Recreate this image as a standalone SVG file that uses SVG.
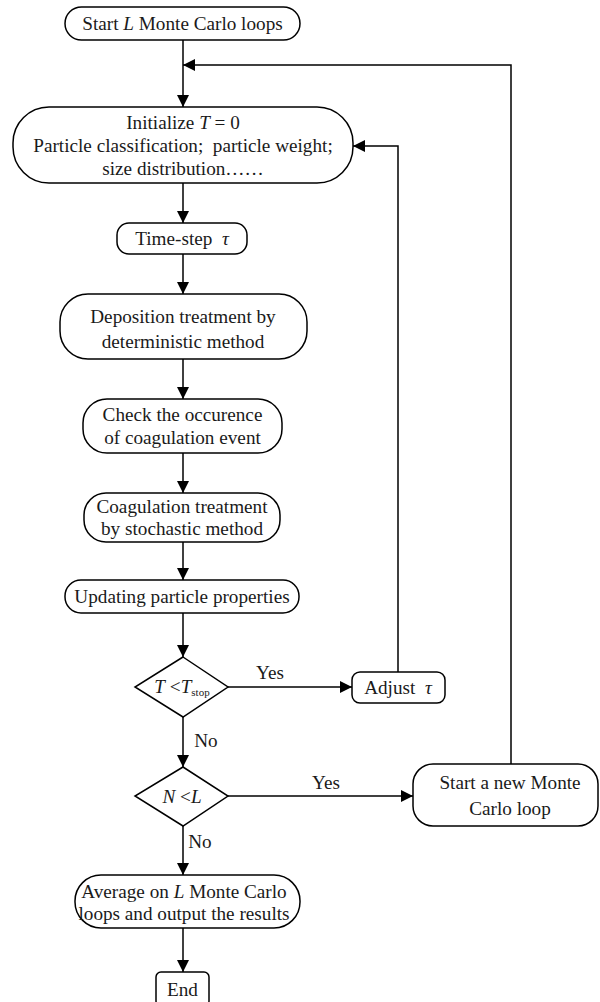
<svg xmlns="http://www.w3.org/2000/svg" width="600" height="1002" viewBox="0 0 600 1002">
<defs>
<marker id="arr" markerUnits="userSpaceOnUse" markerWidth="12" markerHeight="12" refX="12" refY="6" orient="auto">
<path d="M0,0 L12,6 L0,12 z" fill="#000"/>
</marker>
<style>
.box{fill:#fff;stroke:#000;stroke-width:1.5}
.t{font-family:"Liberation Serif","Times New Roman",serif;font-size:19.2px;fill:#1a1a1a;text-anchor:middle}
.i{font-style:italic}
.c{fill:none;stroke:#000;stroke-width:1.5;marker-end:url(#arr)}
</style>
</defs>
<rect width="600" height="1002" fill="#fff"/>
<g id="connectors">
<path class="c" d="M183,40 V107"/>
<path class="c" d="M511,764 V65 H183"/>
<path class="c" d="M183,183 V223"/>
<path class="c" d="M183,254 V294"/>
<path class="c" d="M183,359 V399"/>
<path class="c" d="M183,453 V493"/>
<path class="c" d="M183,542 V580"/>
<path class="c" d="M183,613 V657"/>
<path class="c" d="M228,687 H352"/>
<path class="c" d="M398,672 V146 H353"/>
<path class="c" d="M183,717 V767"/>
<path class="c" d="M228,796 H413"/>
<path class="c" d="M183,826 V875"/>
<path class="c" d="M183,928 V972"/>
<text class="t" x="270" y="679">Yes</text>
<text class="t" x="326" y="789">Yes</text>
<text class="t" x="206" y="747">No</text>
<text class="t" x="200" y="848">No</text>
</g>
<g id="start">
<rect class="box" x="65" y="7" width="235" height="33" rx="16.5"/>
<text class="t" x="182.5" y="30">Start <tspan class="i">L</tspan> Monte Carlo loops</text>
</g>
<g id="initialize">
<rect class="box" x="13" y="107" width="340" height="76" rx="36"/>
<text class="t" x="183" y="129">Initialize <tspan class="i">T</tspan> = 0</text>
<text class="t" x="183" y="152">Particle classification;&#160; particle weight;</text>
<text class="t" x="183" y="175">size distribution……</text>
</g>
<g id="timestep">
<rect class="box" x="117" y="223" width="130" height="31" rx="12"/>
<text class="t" x="182" y="245">Time-step&#160; <tspan class="i">τ</tspan></text>
</g>
<g id="deposition">
<rect class="box" x="60" y="294" width="247" height="65" rx="28"/>
<text class="t" x="183" y="323">Deposition treatment by</text>
<text class="t" x="183" y="348">deterministic method</text>
</g>
<g id="check">
<rect class="box" x="83" y="399" width="199" height="54" rx="24"/>
<text class="t" x="182.5" y="421">Check the occurence</text>
<text class="t" x="182.5" y="444">of coagulation event</text>
</g>
<g id="coagulation">
<rect class="box" x="84" y="493" width="196" height="49" rx="22"/>
<text class="t" x="182" y="513">Coagulation treatment</text>
<text class="t" x="182" y="535">by stochastic method</text>
</g>
<g id="updating">
<rect class="box" x="65" y="580" width="234" height="33" rx="16"/>
<text class="t" x="182" y="603">Updating particle properties</text>
</g>
<g id="decision1">
<polygon class="box" points="183,657 228,687 183,717 135,687"/>
<text class="t" x="182" y="693"><tspan class="i">T</tspan> &lt;<tspan class="i">T</tspan><tspan font-size="11" dy="3">stop</tspan></text>
</g>
<g id="adjust">
<rect class="box" x="352" y="672" width="93" height="31" rx="8"/>
<text class="t" x="398" y="694">Adjust&#160; <tspan class="i">τ</tspan></text>
</g>
<g id="decision2">
<polygon class="box" points="183,767 228,796 183,826 135,796"/>
<text class="t" x="182" y="803"><tspan class="i">N</tspan> &lt;<tspan class="i">L</tspan></text>
</g>
<g id="newloop">
<rect class="box" x="413" y="764" width="185" height="62" rx="20"/>
<text class="t" x="510" y="789">Start a new Monte</text>
<text class="t" x="510" y="815">Carlo loop</text>
</g>
<g id="average">
<rect class="box" x="75" y="875" width="225" height="53" rx="26"/>
<text class="t" x="184" y="898">Average on <tspan class="i">L</tspan> Monte Carlo</text>
<text class="t" x="184" y="920">loops and output the results</text>
</g>
<g id="end">
<rect class="box" x="156" y="972" width="53" height="34" rx="5"/>
<text class="t" x="182.5" y="996">End</text>
</g>
</svg>
